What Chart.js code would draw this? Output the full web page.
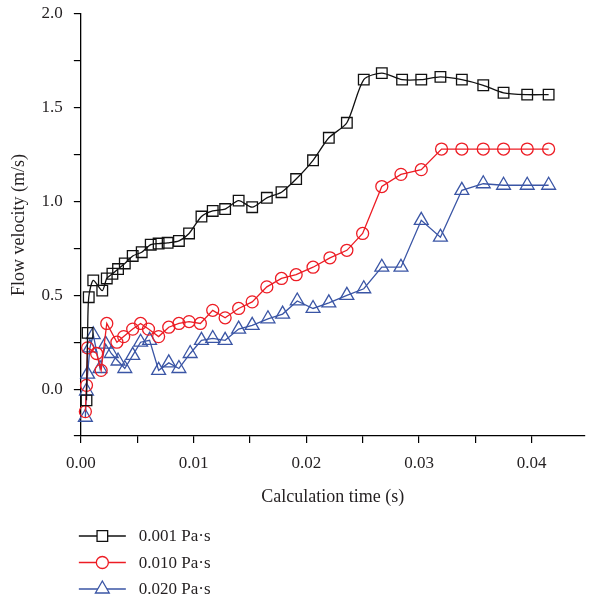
<!DOCTYPE html>
<html>
<head>
<meta charset="utf-8">
<script src="https://cdn.jsdelivr.net/npm/chart.js@4.4.1/dist/chart.umd.min.js"></script>
<style>
  html, body { margin: 0; padding: 0; background: #fff; }
</style>
</head>
<body>
<canvas id="myChart" width="594" height="603"></canvas>
<script>
// viscosity labels for the three runs
var seriesNames = ['0.001 Pa\u00b7s', '0.010 Pa\u00b7s', '0.020 Pa\u00b7s'];

// 0.001 Pa.s (black squares)
var timeA = [0.0005, 0.0006, 0.0007, 0.0011, 0.0019, 0.0023, 0.0028, 0.0033, 0.0039, 0.0046, 0.0054,
             0.0062, 0.0069, 0.0077, 0.0087, 0.0096, 0.0107, 0.0117, 0.0128, 0.0140, 0.0152, 0.0165,
             0.0178, 0.0191, 0.0206, 0.0220, 0.0236, 0.0251, 0.0267, 0.0285, 0.0302, 0.0319, 0.0338,
             0.0357, 0.0375, 0.0396, 0.0415];
var velA = [-0.06, 0.30, 0.49, 0.58, 0.525, 0.59, 0.615, 0.64, 0.67, 0.71, 0.73,
            0.77, 0.776, 0.78, 0.79, 0.83, 0.92, 0.95, 0.96, 1.005, 0.97, 1.02,
            1.05, 1.12, 1.22, 1.34, 1.42, 1.65, 1.685, 1.65, 1.65, 1.665, 1.65,
            1.62, 1.58, 1.57, 1.57];

// 0.010 Pa.s (red circles)
var timeB = [0.0004, 0.0005, 0.0006, 0.0014, 0.0018, 0.0023, 0.0032, 0.0038, 0.0046, 0.0053, 0.0060,
             0.0069, 0.0078, 0.0087, 0.0096, 0.0106, 0.0117, 0.0128, 0.0140, 0.0152, 0.0165, 0.0178,
             0.0191, 0.0206, 0.0221, 0.0236, 0.0250, 0.0267, 0.0284, 0.0302, 0.0320, 0.0338, 0.0357,
             0.0375, 0.0396, 0.0415];
var velB = [-0.12, 0.02, 0.22, 0.19, 0.10, 0.35, 0.25, 0.28, 0.32, 0.35, 0.32,
            0.28, 0.33, 0.35, 0.36, 0.35, 0.42, 0.38, 0.43, 0.465, 0.545, 0.59,
            0.61, 0.65, 0.70, 0.74, 0.83, 1.08, 1.145, 1.17, 1.28, 1.28, 1.28,
            1.28, 1.28, 1.28];

// 0.020 Pa.s (blue triangles)
var timeC = [0.0004, 0.0005, 0.0006, 0.0008, 0.0011, 0.0017, 0.0022, 0.0027, 0.0033, 0.0039, 0.0046,
             0.0053, 0.0061, 0.0069, 0.0078, 0.0087, 0.0097, 0.0107, 0.0117, 0.0128, 0.0140, 0.0152,
             0.0166, 0.0179, 0.0192, 0.0206, 0.0220, 0.0236, 0.0251, 0.0267, 0.0284, 0.0302, 0.0319,
             0.0338, 0.0357, 0.0375, 0.0396, 0.0415];
var velC = [-0.15, -0.01, 0.08, 0.22, 0.29, 0.11, 0.24, 0.19, 0.15, 0.11, 0.18,
            0.25, 0.26, 0.10, 0.14, 0.11, 0.19, 0.26, 0.27, 0.26, 0.32, 0.34,
            0.375, 0.40, 0.47, 0.43, 0.46, 0.50, 0.535, 0.65, 0.65, 0.90, 0.81,
            1.06, 1.095, 1.087, 1.087, 1.087];

var FONT = "'Liberation Serif', 'DejaVu Serif', serif";
var TEXT = '#231f20';

function pairs(xs, ys) {
    return xs.map(function (x, i) { return { x: x, y: ys[i] }; });
}

function series(label, xs, ys, color, style, radius, tension) {
    return {
        label: label,
        data: pairs(xs, ys),
        borderColor: color,
        borderWidth: 1.3,
        pointStyle: style,
        pointRadius: radius,
        pointHoverRadius: radius,
        pointBorderColor: color,
        pointBackgroundColor: 'rgba(255,255,255,0)',
        pointBorderWidth: 1.3,
        tension: tension,
        fill: false,
        clip: false
    };
}

// legend drawn under the plot, one entry per row
var legendBelow = {
    id: 'legendBelow',
    afterDraw: function (chart) {
        var ctx = chart.ctx;
        var x0 = chart.chartArea.left - 2;
        ctx.save();
        chart.data.datasets.forEach(function (ds, i) {
            var y = 536 + i * 26.5;
            ctx.strokeStyle = ds.borderColor;
            ctx.lineWidth = 1.3;
            ctx.beginPath();
            ctx.moveTo(x0, y);
            ctx.lineTo(x0 + 47, y);
            ctx.stroke();
            ctx.fillStyle = '#fff';
            Chart.helpers.drawPoint(ctx, {
                pointStyle: ds.pointStyle,
                radius: ds.pointRadius,
                rotation: 0,
                borderWidth: 1.3
            }, x0 + 23.5, y);
            ctx.fillStyle = TEXT;
            ctx.font = '17px ' + FONT;
            ctx.textBaseline = 'middle';
            ctx.textAlign = 'left';
            ctx.fillText(ds.label, x0 + 60, y + 1);
        });
        ctx.restore();
    }
};

var ctx = document.getElementById('myChart').getContext('2d');
var myChart = new Chart(ctx, {
    type: 'line',
    data: {
        datasets: [
            series(seriesNames[0], timeA, velA, '#111111', 'rect', 7.5, 0.25),
            series(seriesNames[1], timeB, velB, '#ed1c24', 'circle', 6, 0),
            series(seriesNames[2], timeC, velC, '#3a55a5', 'triangle', 8, 0)
        ]
    },
    options: {
        responsive: false,
        animation: false,
        layout: { padding: { top: 0, right: 4, bottom: 95, left: 8 } },
        plugins: {
            legend: { display: false },
            tooltip: { enabled: false }
        },
        scales: {
            x: {
                type: 'linear',
                min: 0,
                max: 0.0447,
                border: { display: true, color: '#000', width: 1.3 },
                grid: { drawOnChartArea: false, drawTicks: true, tickLength: 7, color: '#000', lineWidth: 1.2 },
                ticks: {
                    stepSize: 0.005,
                    includeBounds: false,
                    autoSkip: false,
                    maxRotation: 0,
                    padding: 10,
                    color: TEXT,
                    font: { family: FONT, size: 17 },
                    callback: function (v) {
                        var k = v * 100;
                        return Math.abs(k - Math.round(k)) < 1e-6 ? v.toFixed(2) : '';
                    }
                },
                title: {
                    display: true,
                    text: 'Calculation time (s)',
                    color: TEXT,
                    font: { family: FONT, size: 18 },
                    padding: { top: 3, bottom: 0 }
                }
            },
            y: {
                min: -0.25,
                max: 2.0,
                afterFit: function (scale) {
                    // keep the top of the plot close to the canvas edge
                    scale.paddingTop = 14;
                },
                border: { display: true, color: '#000', width: 1.3 },
                grid: { drawOnChartArea: false, drawTicks: true, tickLength: 7, color: '#000', lineWidth: 1.2 },
                ticks: {
                    stepSize: 0.25,
                    includeBounds: false,
                    autoSkip: false,
                    padding: 11,
                    color: TEXT,
                    font: { family: FONT, size: 17 },
                    callback: function (v) {
                        var k = v * 2;
                        return (Math.abs(k - Math.round(k)) < 1e-6 && v > -0.1) ? v.toFixed(1) : '';
                    }
                },
                title: {
                    display: true,
                    text: 'Flow velocity (m/s)',
                    color: TEXT,
                    font: { family: FONT, size: 18 },
                    padding: { top: 0, bottom: 1 }
                }
            }
        }
    },
    plugins: [legendBelow]
});
</script>
</body>
</html>
